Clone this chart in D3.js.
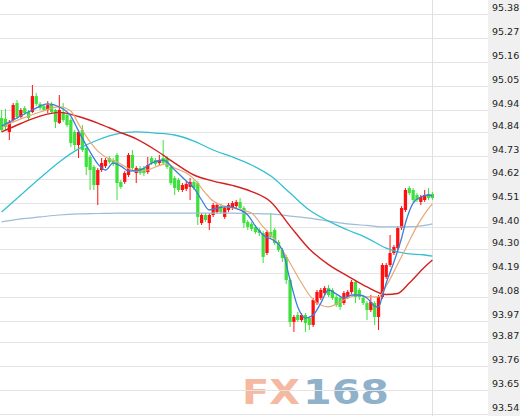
<!DOCTYPE html>
<html><head><meta charset="utf-8">
<script src="https://cdn.jsdelivr.net/npm/d3@7/dist/d3.min.js"></script>
<style>html,body{margin:0;padding:0;background:#fff;overflow:hidden}</style>
</head><body><svg id="c" width="520" height="416"></svg>
<script>
const tickLabels = ["95.38","95.27","95.16","95.05","94.94","94.84","94.73","94.62","94.51","94.40","94.30","94.19","94.08","93.97","93.87","93.76","93.65","93.54"];
const open = [94.907,94.903,94.843,94.898,94.976,94.912,94.953,94.935,94.935,95.008,
94.972,94.962,94.944,94.972,94.944,94.884,94.935,94.921,94.898,94.843,
94.783,94.852,94.769,94.728,94.682,94.599,94.668,94.686,94.723,94.714,
94.737,94.613,94.613,94.645,94.737,94.654,94.677,94.677,94.659,94.723,
94.714,94.700,94.723,94.723,94.682,94.631,94.622,94.576,94.581,94.590,
94.613,94.608,94.424,94.461,94.424,94.461,94.475,94.502,94.452,94.484,
94.493,94.502,94.521,94.493,94.429,94.420,94.406,94.392,94.378,94.286,
94.383,94.392,94.337,94.300,94.268,94.162,93.969,94.001,93.978,94.001,
93.987,93.955,94.056,94.079,94.102,94.125,94.116,94.084,94.079,94.056,
94.084,94.107,94.153,94.116,94.079,94.056,94.024,94.056,93.992,94.084,
94.176,94.231,94.286,94.309,94.401,94.484,94.585,94.576,94.553,94.521,
94.530,94.558,94.558];
const high = [94.944,94.949,94.898,94.976,94.990,94.953,94.962,94.944,95.059,95.022,
94.981,94.972,94.985,94.981,94.949,95.013,94.976,94.930,94.907,94.852,
94.852,94.875,94.778,94.737,94.691,94.677,94.723,94.723,94.732,94.723,
94.746,94.622,94.663,94.746,94.760,94.686,94.686,94.686,94.728,94.732,
94.723,94.737,94.806,94.732,94.691,94.640,94.631,94.608,94.613,94.631,
94.622,94.617,94.470,94.470,94.470,94.516,94.516,94.512,94.502,94.516,
94.525,94.530,94.539,94.502,94.438,94.429,94.415,94.401,94.387,94.392,
94.470,94.401,94.346,94.309,94.277,94.171,94.001,94.015,94.010,94.010,
93.996,94.079,94.116,94.125,94.134,94.139,94.125,94.093,94.088,94.111,
94.116,94.162,94.162,94.125,94.088,94.065,94.093,94.065,94.093,94.240,
94.240,94.369,94.323,94.410,94.502,94.585,94.594,94.585,94.562,94.553,
94.576,94.585,94.567];
const low = [94.843,94.852,94.806,94.889,94.903,94.907,94.921,94.898,94.930,94.962,
94.944,94.939,94.930,94.926,94.861,94.880,94.889,94.866,94.774,94.760,
94.723,94.751,94.645,94.576,94.576,94.507,94.659,94.677,94.696,94.686,
94.530,94.581,94.604,94.636,94.668,94.608,94.645,94.640,94.650,94.691,
94.686,94.691,94.691,94.673,94.599,94.553,94.567,94.567,94.571,94.530,
94.576,94.415,94.415,94.429,94.392,94.452,94.466,94.466,94.443,94.475,
94.484,94.493,94.484,94.401,94.392,94.387,94.374,94.364,94.240,94.277,
94.351,94.323,94.291,94.245,94.144,93.946,93.923,93.969,93.969,93.923,
93.932,93.946,94.047,94.070,94.093,94.084,94.070,94.038,94.024,94.047,
94.075,94.098,94.056,94.070,94.047,93.978,94.015,93.955,93.932,94.075,
94.167,94.222,94.277,94.300,94.392,94.475,94.553,94.521,94.521,94.507,
94.521,94.530,94.530];
const close = [94.852,94.866,94.889,94.967,94.912,94.944,94.930,94.907,95.008,94.972,
94.953,94.944,94.967,94.935,94.889,94.944,94.898,94.875,94.792,94.783,
94.843,94.760,94.682,94.668,94.599,94.668,94.700,94.714,94.705,94.696,
94.608,94.590,94.654,94.737,94.677,94.677,94.654,94.654,94.691,94.700,
94.696,94.714,94.700,94.682,94.608,94.585,94.576,94.599,94.604,94.613,
94.585,94.452,94.461,94.438,94.461,94.507,94.507,94.475,94.493,94.507,
94.516,94.521,94.493,94.424,94.406,94.397,94.383,94.378,94.268,94.383,
94.360,94.332,94.300,94.263,94.162,93.969,93.992,93.978,94.001,93.964,
93.955,94.070,94.107,94.116,94.125,94.093,94.079,94.047,94.038,94.102,
94.107,94.153,94.084,94.084,94.056,94.024,94.061,93.992,94.084,94.231,
94.231,94.286,94.314,94.401,94.493,94.576,94.562,94.530,94.530,94.544,
94.553,94.539,94.539];

const cyanIdx = [0,5,10,15,20,25,30,35,40,45,50,55,60,65,70,75,80,85,90,95,100,105,110,112];
const cyanMA = [94.475,94.553,94.631,94.705,94.765,94.806,94.834,94.843,94.838,94.829,94.801,94.760,94.728,94.691,94.640,94.562,94.484,94.433,94.392,94.355,94.309,94.284,94.277,94.272];
const steelIdx = [0,5,10,15,20,25,30,35,40,45,50,55,60,65,70,75,80,85,90,95,100,105,110,112];
const steelMA = [94.429,94.443,94.452,94.461,94.466,94.468,94.470,94.470,94.470,94.470,94.470,94.470,94.470,94.468,94.466,94.456,94.447,94.433,94.420,94.413,94.406,94.406,94.413,94.420];
const redIdx = [0,5,10,15,20,25,30,35,40,45,50,55,60,65,70,75,80,85,90,95,100,103,106,110,112];
const redMA = [94.843,94.882,94.916,94.933,94.914,94.884,94.847,94.811,94.760,94.700,94.645,94.617,94.597,94.569,94.521,94.410,94.305,94.233,94.180,94.130,94.095,94.100,94.148,94.222,94.254];
const orangeIdx = [0,5,10,15,18,20,23,25,28,30,35,38,40,43,45,48,50,53,55,58,60,65,68,70,73,75,78,80,83,85,88,90,93,95,98,100,103,105,108,110,112];
const orangeMA = [94.866,94.903,94.935,94.958,94.939,94.880,94.797,94.755,94.719,94.705,94.663,94.668,94.682,94.696,94.677,94.654,94.627,94.562,94.525,94.502,94.493,94.470,94.406,94.369,94.300,94.240,94.148,94.093,94.047,94.038,94.061,94.079,94.093,94.084,94.084,94.134,94.236,94.305,94.410,94.466,94.512];
const blueIdx = [0,4,8,12,15,18,20,23,25,27,29,31,33,36,39,42,45,48,50,52,54,56,59,62,64,66,68,71,73,75,77,79,81,83,85,87,89,91,93,95,97,98,99,100,102,104,105,107,109,111,112];
const blueMA = [94.870,94.907,94.944,94.972,94.958,94.916,94.847,94.751,94.696,94.668,94.700,94.686,94.663,94.668,94.700,94.714,94.668,94.617,94.585,94.530,94.484,94.493,94.498,94.484,94.461,94.410,94.369,94.341,94.300,94.162,94.038,93.987,94.001,94.056,94.116,94.098,94.079,94.093,94.093,94.079,94.042,94.038,94.088,94.148,94.245,94.355,94.424,94.516,94.544,94.553,94.548];

const W = 520, H = 416, plotRight = 488;
const svg = d3.select("#c");
const n = open.length;
const x = d3.scaleBand().domain(d3.range(n)).range([0, 434]).paddingInner(0.15);
const y = d3.scaleLinear().domain([93.5364, 95.3764]).range([416, 16]);
const bw = x.bandwidth();

// right panel
svg.append("rect").attr("x", plotRight).attr("y", 0).attr("width", W - plotRight).attr("height", H).attr("fill", "#f0f0f0");

// watermark
const wm = svg.append("g").attr("font-family", "DejaVu Sans").attr("font-weight", "bold").attr("font-size", 34);
wm.append("text").attr("x", 242).attr("y", 404).attr("textLength", 58).attr("lengthAdjust", "spacingAndGlyphs").attr("fill", "#f5b8a0").text("FX");
wm.append("text").attr("x", 303).attr("y", 404).attr("textLength", 86).attr("lengthAdjust", "spacingAndGlyphs").attr("fill", "#8fb1c9").text("168");

// grid
const ticks = tickLabels.map(Number);
svg.append("g").selectAll("line").data(ticks).join("line")
  .attr("x1", 0).attr("x2", plotRight)
  .attr("y1", d => Math.round(y(d)) - 0.5).attr("y2", d => Math.round(y(d)) - 0.5)
  .attr("stroke", "#e4e4e4").attr("stroke-width", 1);
svg.append("line").attr("x1", 432.5).attr("x2", 432.5).attr("y1", 0).attr("y2", H).attr("stroke", "#e0e0e0");

// labels
svg.append("g").selectAll("text").data(tickLabels).join("text")
  .attr("x", 492).attr("y", d => Math.round(y(+d)) - 4)
  .attr("font-family", "DejaVu Sans").attr("font-size", 9.5).attr("fill", "#222")
  .text(d => d);

// candles
const cg = svg.append("g");
const idx = d3.range(n);
const col = i => close[i] >= open[i] ? "#ff1010" : "#3ee03e";
cg.selectAll("line").data(idx).join("line")
  .attr("x1", i => x(i) + bw / 2).attr("x2", i => x(i) + bw / 2)
  .attr("y1", i => y(high[i])).attr("y2", i => y(low[i]))
  .attr("stroke", col).attr("stroke-width", 1);
cg.selectAll("rect").data(idx).join("rect")
  .attr("x", i => x(i)).attr("width", bw)
  .attr("y", i => y(Math.max(open[i], close[i])))
  .attr("height", i => Math.max(1, Math.abs(y(open[i]) - y(close[i]))))
  .attr("fill", col);

// moving averages
const line = d3.line().x(d => x(d[0]) + bw / 2).y(d => y(d[1])).curve(d3.curveMonotoneX);
const mas = [
  [steelIdx, steelMA, "#9dbcd6", 1.2],
  [cyanIdx, cyanMA, "#32c0d2", 1.3],
  [redIdx, redMA, "#d42020", 1.4],
  [orangeIdx, orangeMA, "#e8a878", 1.2],
  [blueIdx, blueMA, "#3a7ed8", 1.3]
];
mas.forEach(([ix, vals, c, w]) => {
  svg.append("path").datum(ix.map((v, k) => [v, vals[k]]))
    .attr("d", line).attr("fill", "none").attr("stroke", c).attr("stroke-width", w);
});
</script></body></html>
